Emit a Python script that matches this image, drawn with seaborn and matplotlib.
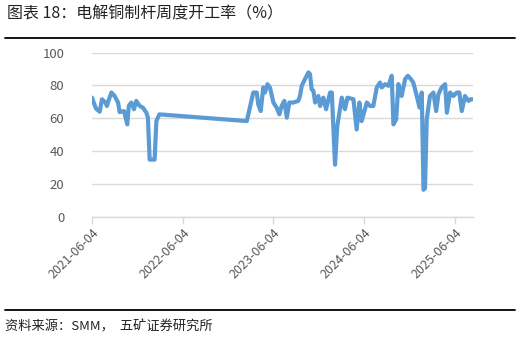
import matplotlib
matplotlib.use("Agg")
import matplotlib.pyplot as plt
import matplotlib.dates as mdates
import seaborn as sns
import pandas as pd

dates = [
    "2021-06-04", "2021-06-10", "2021-06-20", "2021-07-05", "2021-07-14", "2021-07-28",
    "2021-08-03", "2021-08-10", "2021-08-21", "2021-09-03", "2021-09-17", "2021-09-23",
    "2021-10-11", "2021-10-24", "2021-10-30", "2021-11-09", "2021-11-20", "2021-11-29",
    "2021-12-13", "2021-12-26", "2022-01-09", "2022-01-15", "2022-01-22", "2022-02-11",
    "2022-02-18", "2022-03-02",
    "2023-02-17", "2023-03-15", "2023-03-29", "2023-04-04", "2023-04-14", "2023-04-24",
    "2023-05-01", "2023-05-11", "2023-05-21", "2023-06-04", "2023-06-17", "2023-06-28",
    "2023-07-07", "2023-07-18", "2023-07-28", "2023-08-07", "2023-08-23", "2023-09-12",
    "2023-09-19", "2023-09-26", "2023-10-09", "2023-10-23", "2023-10-29", "2023-11-05",
    "2023-11-12", "2023-11-19", "2023-12-02", "2023-12-09", "2023-12-22", "2024-01-02",
    "2024-01-18", "2024-01-25", "2024-02-07", "2024-02-16", "2024-03-05", "2024-03-18",
    "2024-03-28", "2024-04-21", "2024-05-04", "2024-05-15", "2024-05-24", "2024-06-14",
    "2024-06-27", "2024-07-10", "2024-07-24", "2024-08-06", "2024-08-13", "2024-08-26",
    "2024-09-09", "2024-09-22", "2024-09-29", "2024-10-10", "2024-10-19", "2024-11-01",
    "2024-11-15", "2024-11-26", "2024-12-08", "2024-12-18", "2025-01-01", "2025-01-12",
    "2025-01-21", "2025-01-28", "2025-02-03", "2025-02-10", "2025-02-23", "2025-03-09",
    "2025-03-20", "2025-03-29", "2025-04-11", "2025-04-25", "2025-05-02", "2025-05-15",
    "2025-05-28", "2025-06-11", "2025-06-21", "2025-07-01", "2025-07-14", "2025-07-28",
    "2025-08-06", "2025-08-14",
]
rates = [
    72.6, 70.0, 66.0, 64.0, 71.6, 69.6,
    67.5, 71.0, 75.7, 73.6, 69.6, 63.8,
    64.4, 56.3, 67.5, 69.6, 65.5, 70.6,
    67.5, 66.5, 63.4, 60.4, 34.8, 34.8,
    58.3, 62.4,
    58.3, 75.7, 75.7, 68.5, 64.4, 78.8,
    75.7, 80.8, 78.8, 69.6, 66.5, 62.4,
    67.5, 70.6, 60.4, 69.6, 69.6, 70.6,
    73.6, 79.8, 83.9, 88.0, 87.0, 77.7,
    76.7, 69.6, 73.6, 67.5, 72.6, 65.5,
    75.7, 75.7, 31.7, 55.2, 72.6, 65.5,
    72.6, 71.6, 53.2, 69.6, 58.3, 69.6,
    67.5, 67.5, 78.8, 81.8, 78.8, 80.8,
    79.8, 85.9, 56.3, 59.3, 80.8, 73.6,
    83.9, 85.9, 83.9, 81.8, 73.6, 66.5,
    75.7, 16.4, 17.4, 59.3, 73.6, 75.7,
    64.4, 74.7, 78.8, 80.8, 63.4, 75.7,
    73.6, 75.7, 75.7, 64.4, 73.6, 70.6,
    71.6, 71.6,
]
tick_dates = ["2021-06-04", "2022-06-04", "2023-06-04", "2024-06-04", "2025-06-04"]
y_ticks = [0, 20, 40, 60, 80, 100]

title_text = "图表 18：电解铜制杆周度开工率（%）"
source_text = "资料来源：SMM，  五矿证券研究所"

df = pd.DataFrame({"date": pd.to_datetime(dates), "rate": rates})

sns.set_theme(style="white")
plt.rcParams["font.family"] = ["Noto Sans CJK SC", "DejaVu Sans"]

fig = plt.figure(figsize=(5.22, 3.40), dpi=100)
ax = fig.add_axes([92 / 522, 1 - 216.7 / 340, (472.7 - 92) / 522, (216.7 - 52.7) / 340])

sns.lineplot(data=df, x="date", y="rate", ax=ax, color="#5B9BD5", linewidth=3.0,
             solid_joinstyle="round", solid_capstyle="round")

ax.set_ylim(0, 100)
ax.set_yticks(y_ticks)
ax.set_xlim(pd.Timestamp("2021-06-04"), pd.Timestamp("2025-08-14"))
ax.set_xticks(pd.to_datetime(tick_dates))
ax.xaxis.set_major_formatter(mdates.DateFormatter("%Y-%m-%d"))
ax.set_xlabel("")
ax.set_ylabel("")
ax.yaxis.grid(True, color="#D9D9D9", linewidth=1.0)
ax.set_axisbelow(True)
for s in ["top", "right", "left"]:
    ax.spines[s].set_visible(False)
ax.spines["bottom"].set_color("#D9D9D9")
ax.spines["bottom"].set_linewidth(1.0)
ax.tick_params(axis="x", which="major", bottom=True, length=5, width=1.0, color="#D9D9D9",
               labelsize=9, labelcolor="#595959", pad=2)
ax.tick_params(axis="y", left=False, labelsize=9.5, labelcolor="#595959", pad=14)
for lab in ax.get_xticklabels():
    lab.set_rotation(45)
    lab.set_ha("right")
    lab.set_rotation_mode("anchor")

fig.text(7 / 522, 1 - 14 / 340, title_text, fontsize=11.5, color="#222222", va="center", ha="left")
fig.add_artist(plt.Line2D([5 / 522, 515 / 522], [1 - 37.7 / 340, 1 - 37.7 / 340],
                          color="black", linewidth=1.3, transform=fig.transFigure))
fig.add_artist(plt.Line2D([5 / 522, 515 / 522], [1 - 310 / 340, 1 - 310 / 340],
                          color="black", linewidth=1.3, transform=fig.transFigure))
fig.text(5 / 522, 1 - 327 / 340, source_text, fontsize=9.5, color="#222222", va="center", ha="left")

fig.savefig("out.png", dpi=100)
